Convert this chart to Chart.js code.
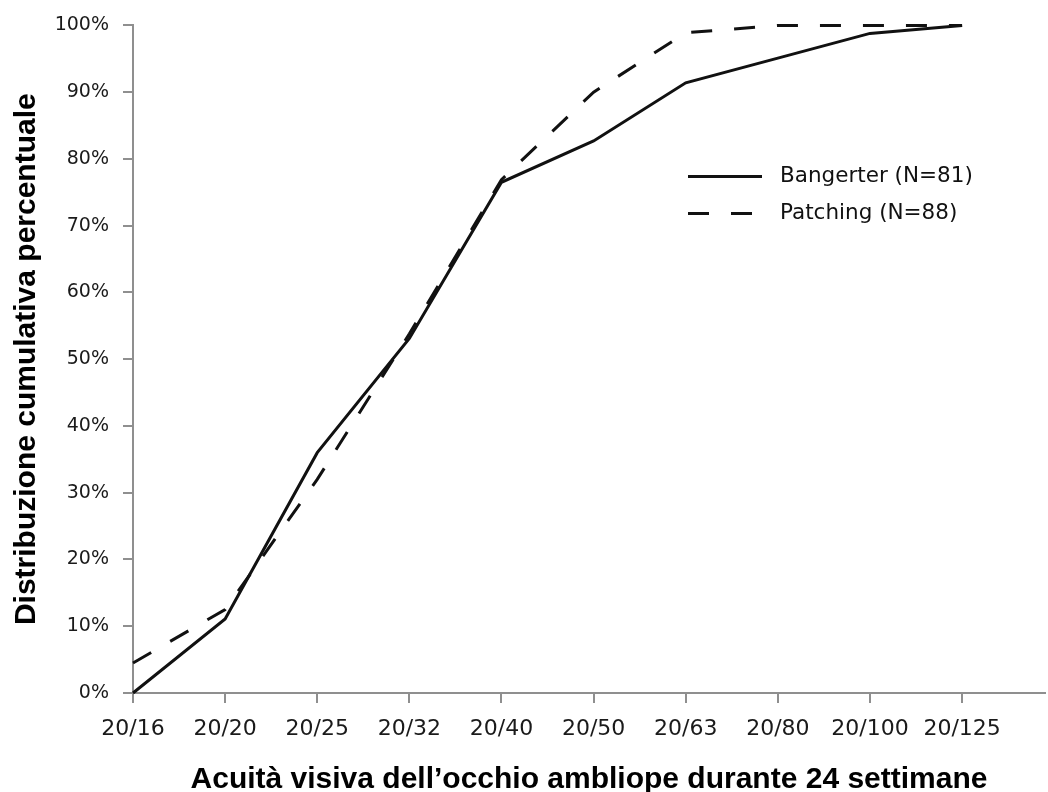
<!DOCTYPE html>
<html>
<head>
<meta charset="utf-8">
<script src="https://cdn.jsdelivr.net/npm/chart.js@4.4.1/dist/chart.umd.min.js"></script>
<style>
  html, body { margin: 0; padding: 0; background: #fff; }
  #wrap { width: 1048px; height: 792px; }
</style>
</head>
<body>
<div id="wrap"><canvas id="chart"></canvas></div>
<script>
// acuity categories on the x axis
const acuityLabels = ['20/16', '20/20', '20/25', '20/32', '20/40', '20/50', '20/63', '20/80', '20/100', '20/125'];
// cumulative distribution (%)
const bangerter = [0, 11.1, 36.0, 53.1, 76.5, 82.7, 91.4, 95.1, 98.8, 100];
const patching = [4.5, 12.5, 32.0, 53.8, 76.9, 90.0, 98.9, 100, 100, 100];
const seriesNames = ['Bangerter (N=81)', 'Patching (N=88)'];
const yTicks = [0, 10, 20, 30, 40, 50, 60, 70, 80, 90, 100];

const axisGrey = '#8f8f8f';
const titleFont = { family: 'Liberation Sans', size: 30, weight: 'bold', lineHeight: 0.8 };

// legend drawn inside the plot, like the original figure
const lineLegend = {
  id: 'lineLegend',
  afterDraw(chart) {
    const ctx = chart.ctx;
    const area = chart.chartArea;
    const x0 = area.left + 555;
    const y0 = area.top + 151;
    ctx.save();
    ctx.font = '21.5px "DejaVu Sans"';
    ctx.textBaseline = 'middle';
    ctx.fillStyle = '#111';
    chart.data.datasets.forEach((ds, i) => {
      const y = y0 + i * 37;
      ctx.beginPath();
      ctx.strokeStyle = ds.borderColor;
      ctx.lineWidth = ds.borderWidth;
      ctx.setLineDash(ds.borderDash || []);
      ctx.moveTo(x0, y);
      ctx.lineTo(x0 + 74, y);
      ctx.stroke();
      ctx.setLineDash([]);
      ctx.fillText(ds.label, x0 + 92, y);
    });
    ctx.restore();
  }
};

new Chart(document.getElementById('chart'), {
  type: 'line',
  data: {
    datasets: [
      {
        label: seriesNames[0],
        data: bangerter.map((v, i) => ({ x: i, y: v })),
        borderColor: '#111',
        borderWidth: 3,
        pointRadius: 0,
        tension: 0,
        clip: false
      },
      {
        label: seriesNames[1],
        data: patching.map((v, i) => ({ x: i, y: v })),
        borderColor: '#111',
        borderWidth: 3,
        borderDash: [21, 22],
        pointRadius: 0,
        tension: 0,
        clip: false
      }
    ]
  },
  options: {
    responsive: true,
    maintainAspectRatio: false,
    animation: false,
    layout: { padding: { top: 24, right: 3, left: 0, bottom: 0 } },
    plugins: {
      legend: { display: false },
      tooltip: { enabled: false }
    },
    scales: {
      x: {
        type: 'linear',
        min: 0,
        max: 9.9,
        afterFit: (s) => { s.height = 99; },
        border: { display: true, color: axisGrey, width: 2 },
        grid: { drawOnChartArea: false, drawTicks: true, tickLength: 10, color: axisGrey, lineWidth: 2 },
        ticks: {
          stepSize: 1,
          autoSkip: false,
          maxRotation: 0,
          padding: 13,
          color: '#1a1a1a',
          font: { family: 'DejaVu Sans', size: 22 },
          callback: (v) => Number.isInteger(v) ? acuityLabels[v] : null
        },
        title: {
          display: true,
          text: 'Acuità visiva dell’occhio ambliope durante 24 settimane',
          color: '#000',
          font: titleFont,
          padding: { top: 0, bottom: 0 }
        }
      },
      y: {
        min: 0,
        max: 100,
        afterFit: (s) => { s.width = 133; },
        afterBuildTicks: (s) => { s.ticks = yTicks.map(v => ({ value: v })); },
        border: { display: true, color: axisGrey, width: 2 },
        grid: { drawOnChartArea: false, drawTicks: true, tickLength: 10, color: axisGrey, lineWidth: 2 },
        ticks: {
          padding: 14,
          color: '#1a1a1a',
          font: { family: 'DejaVu Sans', size: 19 },
          callback: (v) => v + '%'
        },
        title: {
          display: true,
          text: 'Distribuzione cumulativa percentuale',
          color: '#000',
          font: titleFont,
          padding: { top: 15, bottom: 0 }
        }
      }
    }
  },
  plugins: [lineLegend]
});
</script>
</body>
</html>
